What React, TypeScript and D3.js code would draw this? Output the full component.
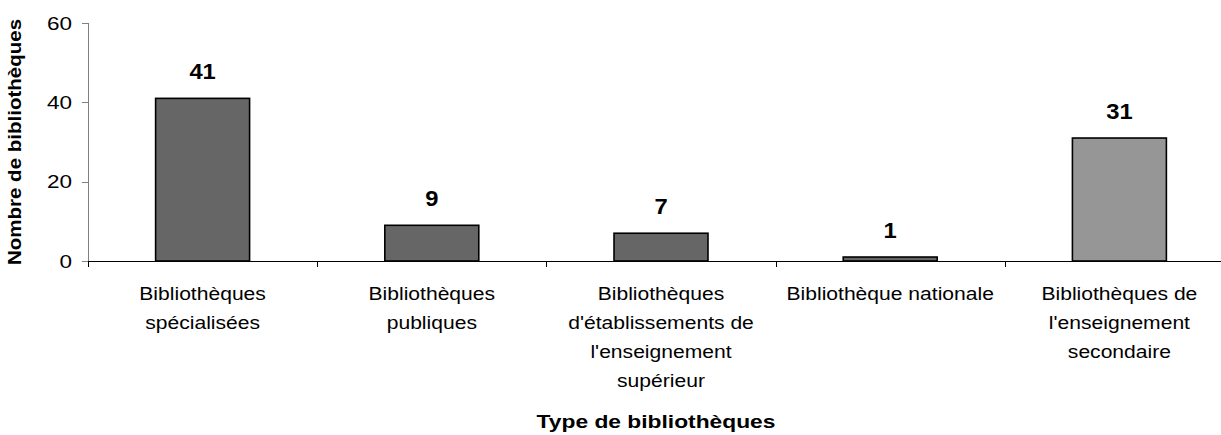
import React from "react";
import * as d3 from "d3";

const categories = [
  "Bibliothèques spécialisées",
  "Bibliothèques publiques",
  "Bibliothèques d'établissements de l'enseignement supérieur",
  "Bibliothèque nationale",
  "Bibliothèques de l'enseignement secondaire",
];
const categoryLines = [
  ["Bibliothèques", "spécialisées"],
  ["Bibliothèques", "publiques"],
  ["Bibliothèques", "d'établissements de", "l'enseignement", "supérieur"],
  ["Bibliothèque nationale"],
  ["Bibliothèques de", "l'enseignement", "secondaire"],
];
const values = [41, 9, 7, 1, 31];
const barColors = ["#666666", "#666666", "#666666", "#666666", "#969696"];
const yTicks = [0, 20, 40, 60];
const xTitle = "Type de bibliothèques";
const yTitle = "Nombre de bibliothèques";

const W = 1221;
const H = 435;
const left = 88;
const right = 1234;
const top = 23;
const bottom = 261;
const FONT = "Arial, 'Liberation Sans', sans-serif";

type TP = { x: number; y: number; size: number; sx: number; bold?: boolean; anchor?: string; rotate?: boolean; children: React.ReactNode };
const T = (props: TP) => (
  <text
    transform={`translate(${props.x},${props.y})${props.rotate ? " rotate(-90)" : ""} scale(${props.sx},1)`}
    fontFamily={FONT}
    fontSize={props.size}
    fontWeight={props.bold ? "bold" : "normal"}
    textAnchor={props.anchor || "middle"}
    fill="#000"
  >
    {props.children}
  </text>
);

export default function App() {
  const x = d3.scaleBand<number>().domain(d3.range(categories.length)).range([left, right]).paddingInner(0).paddingOuter(0);
  const y = d3.scaleLinear().domain([0, 60]).range([bottom, top]);
  const bw = x.bandwidth() * 0.41;

  return (
    <svg width={W} height={H} style={{ position: "absolute", left: 0, top: 0, background: "#fff" }}>
      {/* y axis */}
      <line x1={left + 0.5} x2={left + 0.5} y1={top} y2={bottom} stroke="#808080" strokeWidth={1} />
      {yTicks.map((t) => (
        <g key={t}>
          <line x1={left - 6} x2={left} y1={Math.round(y(t)) + 0.5} y2={Math.round(y(t)) + 0.5} stroke="#808080" />
          <T x={left - 16} y={y(t) + 6.5} size={18} sx={1.25} anchor="end">{t}</T>
        </g>
      ))}
      {/* bars */}
      {values.map((v, i) => {
        const cx = (x(i) as number) + x.bandwidth() / 2;
        return (
          <g key={i}>
            <rect x={cx - bw / 2} y={y(v)} width={bw} height={y(0) - y(v)} fill={barColors[i]} stroke="#000" strokeWidth={1.6} />
            <T x={cx} y={y(v) - 19} size={22} sx={1.08} bold>{v}</T>
          </g>
        );
      })}
      {/* x axis */}
      <line x1={left} x2={W} y1={bottom + 0.5} y2={bottom + 0.5} stroke="#000" strokeWidth={1} />
      {d3.range(categories.length + 1).map((i) => {
        const xx = Math.round(left + i * x.bandwidth()) + 0.5;
        return <line key={i} x1={xx} x2={xx} y1={bottom} y2={bottom + 6} stroke="#000" />;
      })}
      {categoryLines.map((lines, i) => {
        const cx = (x(i) as number) + x.bandwidth() / 2;
        return (
          <g key={i}>
            {lines.map((l, j) => (
              <T key={j} x={cx} y={300 + j * 29} size={18.5} sx={1.14}>{l}</T>
            ))}
          </g>
        );
      })}
      <T x={656} y={428} size={19} sx={1.2} bold>{xTitle}</T>
      <T x={21} y={(top + bottom) / 2} size={18} sx={1.14} bold rotate>{yTitle}</T>
    </svg>
  );
}
